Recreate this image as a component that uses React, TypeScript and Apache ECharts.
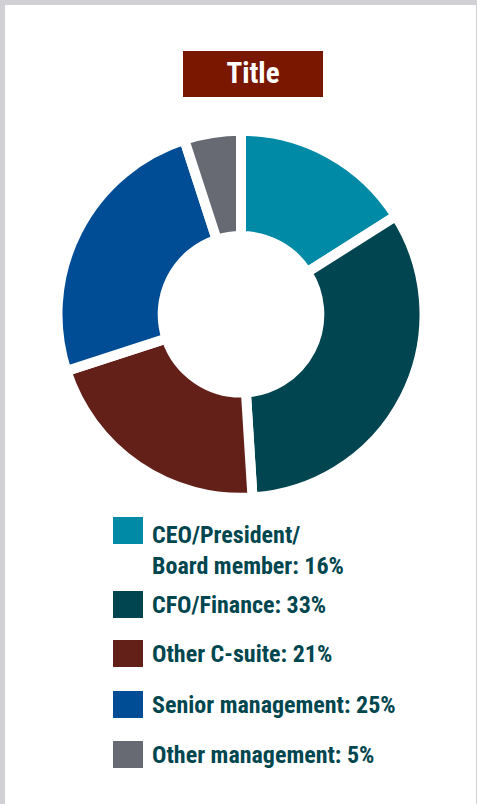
import React, { useEffect, useRef } from "react";
import * as echarts from "echarts";

const categories = [
  "CEO/President/Board member",
  "CFO/Finance",
  "Other C-suite",
  "Senior management",
  "Other management",
];
const values = [16, 33, 21, 25, 5];
const colors = ["#008aa6", "#00454f", "#622019", "#004c95", "#676a72"];
const titleText = "Title";

const FONT = '"Roboto Condensed", "Roboto", sans-serif';
const TEXT_COLOR = "#00464f";
const legendTops = [479.5, 590, 639, 690, 740];

export default function App() {
  const ref = useRef<HTMLDivElement>(null);
  useEffect(() => {
    const chart = echarts.init(ref.current!, null, { renderer: "svg" });
    const tokenStyle = {
      fontFamily: FONT,
      fontWeight: "bold",
      fontSize: 24,
      color: TEXT_COLOR,
      lineHeight: 31,
    };
    const legends = categories.map((name, i) => {
      const multi = i === 0;
      return {
        data: [name],
        left: 113,
        top: legendTops[i],
        padding: 0,
        orient: "vertical",
        selectedMode: false,
        icon: "rect",
        itemWidth: 30,
        itemHeight: 27,
        itemStyle: { borderWidth: 0 },
        formatter: (n: string) => {
          const idx = categories.indexOf(n);
          const text = `${n}: ${values[idx]}%`;
          if (n.indexOf("President/") >= 0) {
            const parts = text.split("President/");
            return `{s| }\n{a|${parts[0]}President/}\n{a|${parts[1]}}`;
          }
          return text;
        },
        textStyle: multi
          ? {
              ...tokenStyle,
              padding: [0, 0, 0, 4],
              rich: {
                s: { fontSize: 10, lineHeight: 40 },
                a: tokenStyle,
              },
            }
          : {
              ...tokenStyle,
              lineHeight: 27,
              padding: [2, 0, 0, 4],
            },
      };
    });
    chart.setOption({
      animation: false,
      graphic: [
        { type: "rect", z: -10, shape: { x: 0, y: 0, width: 477, height: 804 }, style: { fill: "#d0d0d5" } },
        { type: "rect", z: -9, shape: { x: 5, y: 5, width: 471, height: 799 }, style: { fill: "#ffffff" } },
        { type: "rect", shape: { x: 183, y: 51, width: 140, height: 46 }, style: { fill: "#7a1700" } },
        {
          type: "text",
          x: 253,
          y: 73,
          style: {
            text: titleText,
            align: "center",
            verticalAlign: "middle",
            font: `bold 29px ${FONT}`,
            fill: "#ffffff",
          },
        },
      ],
      legend: legends,
      series: [
        {
          type: "pie",
          center: [241, 314.3],
          radius: [78.3, 183.5],
          startAngle: 90,
          clockwise: true,
          avoidLabelOverlap: false,
          label: { show: false },
          labelLine: { show: false },
          emphasis: { disabled: true },
          itemStyle: { borderColor: "#ffffff", borderWidth: 10 },
          data: categories.map((name, i) => ({
            name,
            value: values[i],
            itemStyle: { color: colors[i] },
          })),
        },
      ],
    });
    return () => chart.dispose();
  }, []);
  return <div ref={ref} style={{ position: "absolute", left: 0, top: 0, width: 477, height: 804 }} />;
}
